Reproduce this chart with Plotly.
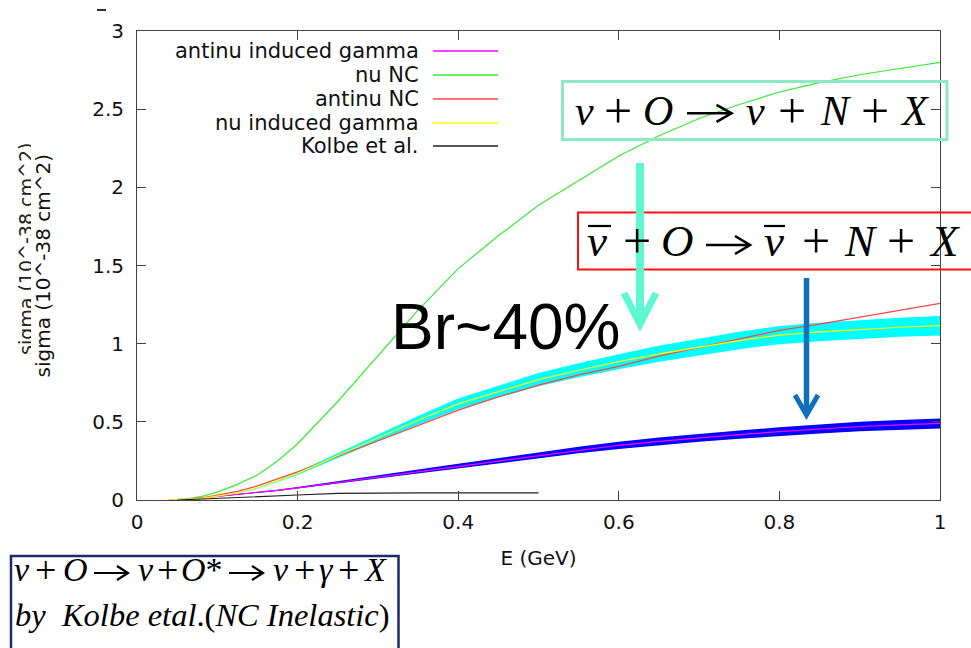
import plotly.graph_objects as go

# ---------------- data ----------------
energy = [0.04, 0.06, 0.08, 0.10, 0.125, 0.15, 0.175, 0.20, 0.25, 0.30, 0.35, 0.40,
          0.45, 0.50, 0.55, 0.60, 0.65, 0.70, 0.75, 0.80, 0.85, 0.90, 0.95, 1.00]

nu_nc = [0.0, 0.006, 0.022, 0.05, 0.10, 0.16, 0.25, 0.36, 0.63, 0.92, 1.215, 1.48,
         1.69, 1.885, 2.04, 2.20, 2.33, 2.44, 2.53, 2.61, 2.67, 2.72, 2.76, 2.80]

antinu_nc = [0.0, 0.004, 0.013, 0.03, 0.055, 0.09, 0.135, 0.18, 0.28, 0.38, 0.48, 0.575,
             0.66, 0.735, 0.80, 0.855, 0.92, 0.976, 1.03, 1.085, 1.125, 1.17, 1.215, 1.258]

nu_gamma = [0.0, 0.003, 0.010, 0.025, 0.045, 0.075, 0.12, 0.17, 0.285, 0.40, 0.51, 0.615,
            0.695, 0.77, 0.83, 0.885, 0.935, 0.976, 1.02, 1.055, 1.075, 1.09, 1.105, 1.115]
nu_gamma_hi = [0.0, 0.003, 0.011, 0.027, 0.048, 0.080, 0.127, 0.18, 0.301, 0.422, 0.538, 0.649,
               0.733, 0.812, 0.875, 0.933, 0.986, 1.029, 1.076, 1.113, 1.134, 1.15, 1.166, 1.177]
nu_gamma_lo = [0.0, 0.003, 0.009, 0.023, 0.042, 0.070, 0.113, 0.16, 0.269, 0.378, 0.482, 0.581,
               0.657, 0.728, 0.785, 0.837, 0.884, 0.923, 0.964, 0.997, 1.016, 1.03, 1.044, 1.053]

antinu_gamma = [0.0, 0.004, 0.012, 0.023, 0.035, 0.048, 0.062, 0.078, 0.112, 0.148, 0.183, 0.218,
                0.25, 0.285, 0.32, 0.35, 0.375, 0.398, 0.418, 0.437, 0.455, 0.47, 0.48, 0.49]
antinu_gamma_hi = [0.0, 0.0043, 0.013, 0.0245, 0.037, 0.051, 0.066, 0.083, 0.119, 0.158, 0.195, 0.232,
                   0.266, 0.304, 0.341, 0.373, 0.40, 0.424, 0.445, 0.465, 0.484, 0.50, 0.511, 0.522]
antinu_gamma_lo = [0.0, 0.0037, 0.011, 0.0215, 0.033, 0.045, 0.058, 0.073, 0.105, 0.138, 0.171, 0.204,
                   0.234, 0.266, 0.299, 0.327, 0.35, 0.372, 0.391, 0.409, 0.426, 0.44, 0.449, 0.458]

kolbe_e = [0.05, 0.10, 0.15, 0.20, 0.25, 0.30, 0.35, 0.40, 0.45, 0.50]
kolbe = [0.0, 0.012, 0.021, 0.032, 0.043, 0.046, 0.046, 0.046, 0.046, 0.046]

x_ticks = [0, 0.2, 0.4, 0.6, 0.8, 1.0]
x_ticktext = ["0", "0.2", "0.4", "0.6", "0.8", "1"]
y_ticks = [0, 0.5, 1.0, 1.5, 2.0, 2.5, 3.0]
y_ticktext = ["0", "0.5", "1", "1.5", "2", "2.5", "3"]

legend_names = ["antinu induced gamma", "nu NC", "antinu NC", "nu induced gamma", "Kolbe et al."]
legend_colors = ["#ff00ff", "#33ee33", "#ff4444", "#ffff00", "#222222"]

# equation texts (tokens; "->" is drawn as a thin arrow)
eq1_tokens = ["<i>ν</i>", "+", "<i>O</i>", "->", "<i>ν</i>", "+", "<i>N</i>", "+", "<i>X</i>"]
eq2_tokens = ["<i>ν</i>", "+", "<i>O</i>", "->", "<i>ν</i>", "+", "<i>N</i>", "+", "<i>X</i>"]
eq3_tokens = ["<i>ν</i>", "+", "<i>O</i>", "->", "<i>ν</i>", "+", "<i>O</i>*", "->",
              "<i>ν</i>", "+", "<i>γ</i>", "+", "<i>X</i>"]
eq4_text = "<i>by  Kolbe etal</i>.(<i>NC Inelastic</i>)"

# ---------------- geometry helpers (pixel -> paper) ----------------
W, H = 971, 648
L, R, T, B = 137, 940, 31, 500
PW, PH = R - L, B - T


def px(x):
    return (x - L) / PW


def py(y):
    return (B - y) / PH


fig = go.Figure()

# bands
fig.add_trace(go.Scatter(x=energy, y=nu_gamma_lo, mode="lines", line=dict(width=0, color="cyan"),
                         showlegend=False, hoverinfo="skip"))
fig.add_trace(go.Scatter(x=energy, y=nu_gamma_hi, mode="lines", line=dict(width=0, color="cyan"),
                         fill="tonexty", fillcolor="#00ffff", showlegend=False, hoverinfo="skip"))
fig.add_trace(go.Scatter(x=energy, y=antinu_gamma_lo, mode="lines", line=dict(width=0, color="blue"),
                         showlegend=False, hoverinfo="skip"))
fig.add_trace(go.Scatter(x=energy, y=antinu_gamma_hi, mode="lines", line=dict(width=0, color="blue"),
                         fill="tonexty", fillcolor="#0000ff", showlegend=False, hoverinfo="skip"))

# lines
series = [(energy, antinu_gamma), (energy, nu_nc), (energy, antinu_nc), (energy, nu_gamma),
          (kolbe_e, kolbe)]
for (xs, ys), name, col in zip(series, legend_names, legend_colors):
    fig.add_trace(go.Scatter(x=xs, y=ys, mode="lines", name=name,
                             line=dict(color=col, width=1.2), showlegend=False))

shapes = []
annotations = []

# manual gnuplot-style legend
leg_y = [51, 75, 99, 123, 146]
for name, col, yy in zip(legend_names, legend_colors, leg_y):
    annotations.append(dict(xref="paper", yref="paper", x=px(421), y=py(yy), text=name,
                            showarrow=False, xanchor="right", yanchor="middle",
                            font=dict(family="DejaVu Sans", size=21, color="#111")))
    shapes.append(dict(type="line", xref="paper", yref="paper", x0=px(433), x1=px(498),
                       y0=py(yy), y1=py(yy), line=dict(color=col, width=1.3)))

# ghost y-label (partially hidden)
annotations.append(dict(xref="paper", yref="paper", x=px(26), y=py(249), textangle=-90,
                        xanchor="center", yanchor="middle",
                        text="sigma (10^-38 cm^2)", showarrow=False,
                        font=dict(family="DejaVu Sans", size=19, color="#222")))
annotations.append(dict(xref="paper", yref="paper", x=px(35), y=py(250), text=" ",
                        xanchor="center", yanchor="middle",
                        showarrow=False, width=8, height=300, bgcolor="white",
                        borderpad=0, borderwidth=0))
# real y-label
annotations.append(dict(xref="paper", yref="paper", x=px(42), y=py(265.5), textangle=-90,
                        xanchor="center", yanchor="middle",
                        text="sigma (10^-38 cm^2)", showarrow=False,
                        font=dict(family="DejaVu Sans", size=20, color="#111")))
shapes.append(dict(type="line", xref="paper", yref="paper", x0=px(97), x1=px(106),
                   y0=py(10), y1=py(10), line=dict(color="#333", width=2)))

# boxes
shapes.append(dict(type="rect", xref="paper", yref="paper", x0=px(562.5), x1=px(947),
                   y0=py(81.5), y1=py(139.5), line=dict(color="#8fe9c4", width=3)))
shapes.append(dict(type="rect", xref="paper", yref="paper", x0=px(578), x1=px(990),
                   y0=py(212.5), y1=py(269.5), line=dict(color="#ff1010", width=2)))
shapes.append(dict(type="rect", xref="paper", yref="paper", x0=px(11), x1=px(398.5),
                   y0=py(556), y1=py(670), line=dict(color="#1b2a6b", width=2.5)))

serif = "Liberation Serif"


def place_tokens(tokens, centers, yc, size, plus_size, arrows, arrow_y, head, aw):
    """centers: x centre for text tokens; arrows: (x0,x1) for each '->' token."""
    ai = 0
    ci = 0
    for tok in tokens:
        if tok == "->":
            x0, x1 = arrows[ai]
            ai += 1
            hl, hw = head
            shapes.append(dict(type="path", xref="paper", yref="paper",
                               path=(f"M {px(x0)} {py(arrow_y)} L {px(x1)} {py(arrow_y)} "
                                     f"M {px(x1 - hl)} {py(arrow_y - hw)} L {px(x1)} {py(arrow_y)} "
                                     f"L {px(x1 - hl)} {py(arrow_y + hw)}"),
                               line=dict(color="black", width=aw)))
        else:
            fs = plus_size if tok == "+" else size
            annotations.append(dict(xref="paper", yref="paper", x=px(centers[ci]), y=py(yc),
                                    text=tok, showarrow=False, xanchor="center",
                                    yanchor="middle",
                                    font=dict(family=serif, size=fs, color="black")))
            ci += 1


place_tokens(eq1_tokens, [584, 618, 657.5, 755, 791.5, 835, 875, 915], 111.2, 42, 50,
             [(687, 731.5)], 113.3, (15, 8.5), 2.6)
place_tokens(eq2_tokens, [597, 636.5, 677.5, 773.5, 815.5, 861, 900.5, 944], 240.8, 45, 50,
             [(706, 750)], 245, (15, 9), 2.6)
# overlines of the anti-neutrinos
for x0, x1 in [(588, 611), (764, 785)]:
    shapes.append(dict(type="line", xref="paper", yref="paper", x0=px(x0), x1=px(x1),
                       y0=py(226), y1=py(226), line=dict(color="black", width=2.2)))

place_tokens(eq3_tokens, [21.5, 45, 75.5, 145.5, 167, 202, 280.5, 304, 326, 348.5, 374.5],
             569.7, 34, 38, [(94, 128), (229, 263)], 573, (11, 7), 2.2)
annotations.append(dict(xref="paper", yref="paper", x=px(13), y=py(614.5),
                        text=eq4_text,
                        showarrow=False, xanchor="left", yanchor="middle",
                        font=dict(family=serif, size=32.5, color="black")))

# Br~40%
annotations.append(dict(xref="paper", yref="paper", x=px(505), y=py(327), text="Br~40%",
                        showarrow=False, xanchor="center", yanchor="middle",
                        font=dict(family="Liberation Sans", size=64, color="black")))

# arrows
mint = "#5ef7d1"
shapes.append(dict(type="line", xref="paper", yref="paper", x0=px(640), x1=px(640),
                   y0=py(163), y1=py(320), line=dict(color=mint, width=8)))
shapes.append(dict(type="path", xref="paper", yref="paper",
                   path=f"M {px(624)} {py(293)} L {px(640)} {py(324)} L {px(656)} {py(293)}",
                   line=dict(color=mint, width=7)))
blue = "#0f6fbf"
shapes.append(dict(type="line", xref="paper", yref="paper", x0=px(806.5), x1=px(806.5),
                   y0=py(278), y1=py(412), line=dict(color=blue, width=5.5)))
shapes.append(dict(type="path", xref="paper", yref="paper",
                   path=f"M {px(795)} {py(395)} L {px(806.5)} {py(415)} L {px(818)} {py(395)}",
                   line=dict(color=blue, width=5)))

axis_common = dict(showgrid=False, zeroline=False, showline=True, linecolor="#444",
                   linewidth=1, mirror="ticks", ticks="inside", ticklen=9, tickcolor="#444",
                   tickfont=dict(family="DejaVu Sans", size=20, color="#111"))

fig.update_layout(
    width=W, height=H,
    margin=dict(l=L, r=W - R, t=T, b=H - B),
    paper_bgcolor="white", plot_bgcolor="white",
    showlegend=False,
    xaxis=dict(range=[0, 1], tickvals=x_ticks, ticktext=x_ticktext, ticklabelstandoff=4,
               title=dict(text="E (GeV)", font=dict(family="DejaVu Sans", size=20, color="#111"),
                          standoff=17),
               **axis_common),
    yaxis=dict(range=[0, 3], tickvals=y_ticks, ticktext=y_ticktext, ticklabelstandoff=8,
               **axis_common),
    shapes=shapes,
    annotations=annotations,
)

fig.write_html("out.html", config={"displayModeBar": False},
               post_script="document.body.style.margin='0px';")
